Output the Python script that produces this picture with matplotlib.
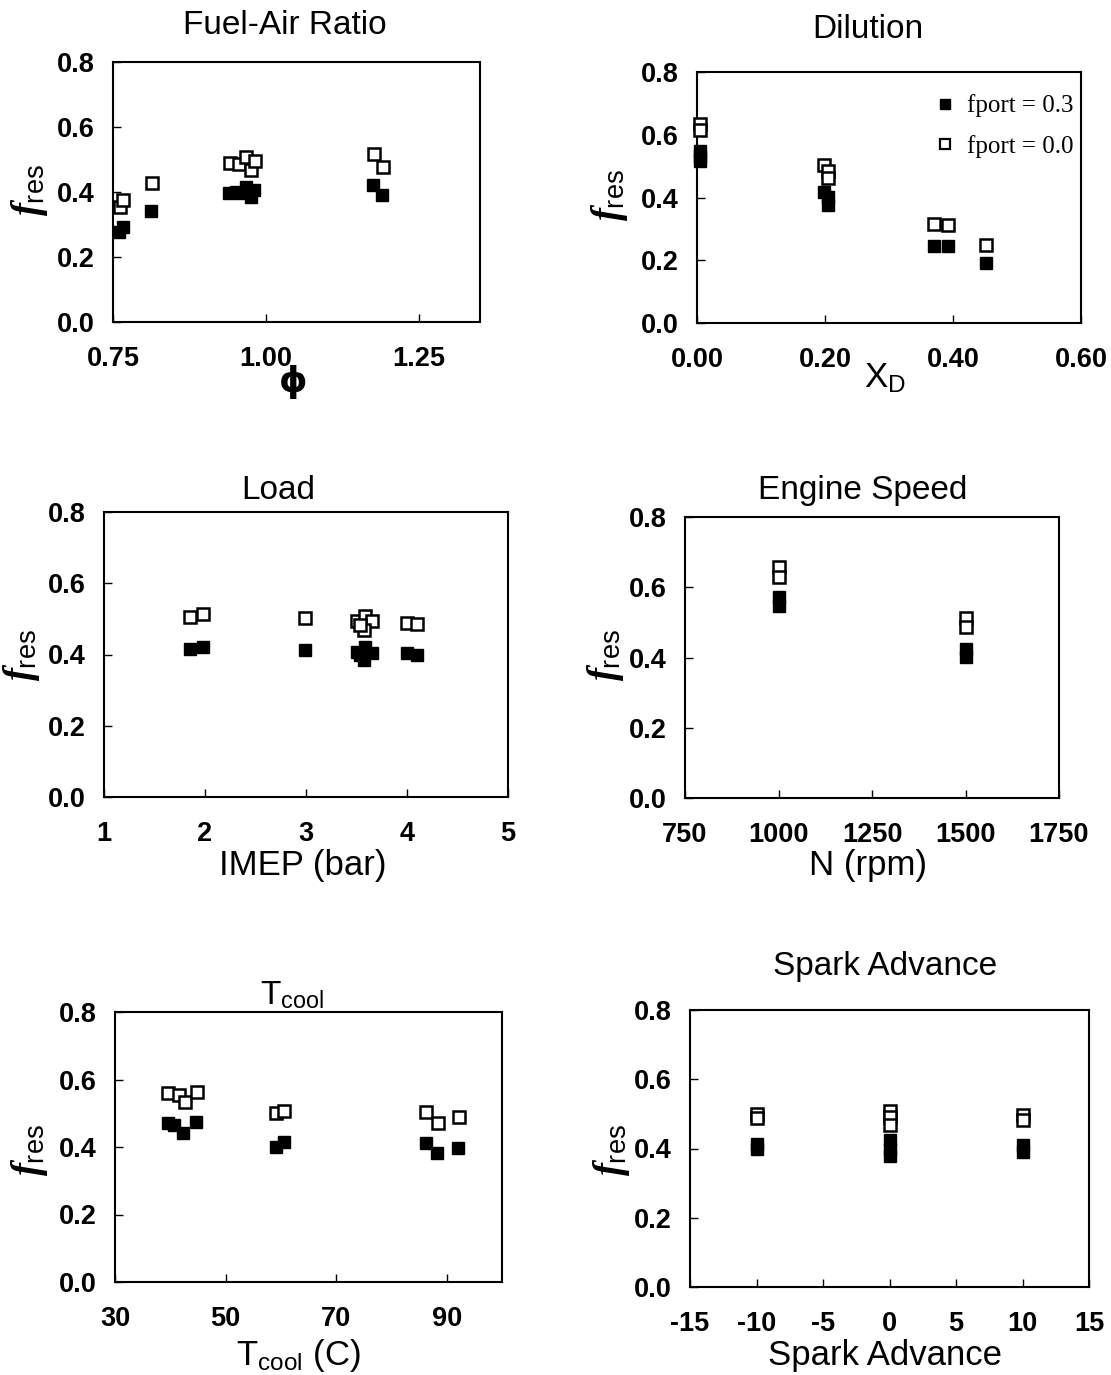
import matplotlib
matplotlib.use("Agg")
import matplotlib.pyplot as plt
from matplotlib.lines import Line2D

plt.rcParams['font.family'] = ['Liberation Sans', 'DejaVu Sans']
plt.rcParams['mathtext.fontset'] = 'custom'
plt.rcParams['mathtext.rm'] = 'Liberation Sans'
plt.rcParams['mathtext.it'] = 'Liberation Serif:italic:bold'

# Fuel-air ratio
phi_03 = [0.759, 0.767, 0.812, 0.940, 0.951, 0.959, 0.967, 0.975, 0.980, 1.175, 1.190]
fres_phi_03 = [0.278, 0.293, 0.342, 0.398, 0.401, 0.396, 0.416, 0.384, 0.406, 0.422, 0.391]
phi_00 = [0.762, 0.767, 0.813, 0.942, 0.956, 0.968, 0.976, 0.982, 1.177, 1.191]
fres_phi_00 = [0.355, 0.374, 0.429, 0.490, 0.486, 0.509, 0.468, 0.496, 0.517, 0.478]

# Dilution
xd_03 = [0.005, 0.005, 0.005, 0.199, 0.205, 0.205, 0.371, 0.392, 0.451]
fres_xd_03 = [0.549, 0.532, 0.517, 0.417, 0.401, 0.375, 0.245, 0.245, 0.190]
xd_00 = [0.005, 0.005, 0.199, 0.205, 0.205, 0.371, 0.392, 0.451]
fres_xd_00 = [0.634, 0.614, 0.502, 0.486, 0.463, 0.314, 0.311, 0.250]

# Load
imep_03 = [1.85, 1.98, 2.99, 3.50, 3.58, 3.65, 3.57, 3.53, 4.00, 4.10]
fres_imep_03 = [0.415, 0.420, 0.413, 0.408, 0.422, 0.403, 0.385, 0.399, 0.403, 0.399]
imep_00 = [1.85, 1.98, 2.99, 3.50, 3.58, 3.65, 3.57, 3.53, 4.00, 4.10]
fres_imep_00 = [0.506, 0.514, 0.503, 0.495, 0.508, 0.495, 0.469, 0.483, 0.489, 0.485]

# Engine speed
n_03 = [1000, 1000, 1500, 1500]
fres_n_03 = [0.572, 0.547, 0.424, 0.401]
n_00 = [1000, 1000, 1500, 1500]
fres_n_00 = [0.658, 0.629, 0.512, 0.487]

# Coolant temperature
tc_03 = [39.5, 40.7, 42.3, 44.7, 59.1, 60.6, 86.2, 88.3, 92.1]
fres_tc_03 = [0.470, 0.465, 0.441, 0.475, 0.401, 0.416, 0.411, 0.381, 0.396]
tc_00 = [39.5, 41.6, 42.6, 44.9, 59.1, 60.6, 86.2, 88.5, 92.3]
fres_tc_00 = [0.559, 0.554, 0.532, 0.564, 0.500, 0.508, 0.505, 0.470, 0.488]

# Spark advance
sa_03 = [-10, -10, 0, 0, 0, 10, 10]
fres_sa_03 = [0.412, 0.398, 0.424, 0.400, 0.379, 0.409, 0.390]
sa_00 = [-10, -10, 0, 0, 0, 10, 10]
fres_sa_00 = [0.499, 0.488, 0.509, 0.490, 0.469, 0.497, 0.481]

W, H = 1111, 1375
fig = plt.figure(figsize=(W / 100, H / 100), dpi=100)

def px_axes(left, right, top, bottom):
    return fig.add_axes([left / W, 1 - bottom / H, (right - left) / W, (bottom - top) / H])

def ftext(x, y, s, **kw):
    fig.text(x / W, 1 - y / H, s, ha='center', va='center', **kw)

# caja de ejes en pixeles, limites, ticks, textos y sus posiciones
paneles = [
    dict(box=(113, 480, 62, 322), xlim=(0.75, 1.35), xt=[0.75, 1.00, 1.25],
         xtl=['0.75', '1.00', '1.25'], data=(phi_03, fres_phi_03, phi_00, fres_phi_00),
         title='Fuel-Air Ratio', tpos=(285, 25), xlab='\u03d5', xpos=(293, 382), ypos=(30, 190)),
    dict(box=(697, 1081, 72, 323), xlim=(0.0, 0.6), xt=[0.0, 0.2, 0.4, 0.6],
         xtl=['0.00', '0.20', '0.40', '0.60'], data=(xd_03, fres_xd_03, xd_00, fres_xd_00),
         title='Dilution', tpos=(868, 30), xlab=r'X$_{\mathrm{D}}$', xpos=(885, 378), ypos=(610, 195)),
    dict(box=(104, 508, 512, 797), xlim=(1, 5), xt=[1, 2, 3, 4, 5],
         xtl=['1', '2', '3', '4', '5'], data=(imep_03, fres_imep_03, imep_00, fres_imep_00),
         title='Load', tpos=(278, 490), xlab='IMEP (bar)', xpos=(303, 865), ypos=(22, 655)),
    dict(box=(685, 1059, 517, 798), xlim=(750, 1750), xt=[750, 1000, 1250, 1500, 1750],
         xtl=['750', '1000', '1250', '1500', '1750'], data=(n_03, fres_n_03, n_00, fres_n_00),
         title='Engine Speed', tpos=(863, 490), xlab='N (rpm)', xpos=(868, 865), ypos=(605, 655)),
    dict(box=(115, 502, 1012, 1282), xlim=(30, 100), xt=[30, 50, 70, 90],
         xtl=['30', '50', '70', '90'], data=(tc_03, fres_tc_03, tc_00, fres_tc_00),
         title=r'T$_{\mathrm{cool}}$', tpos=(292, 995), xlab=r'T$_{\mathrm{cool}}$ (C)', xpos=(298, 1355), ypos=(30, 1150)),
    dict(box=(690, 1089, 1010, 1287), xlim=(-15, 15), xt=[-15, -10, -5, 0, 5, 10, 15],
         xtl=['-15', '-10', '-5', '0', '5', '10', '15'], data=(sa_03, fres_sa_03, sa_00, fres_sa_00),
         title='Spark Advance', tpos=(885, 967), xlab='Spark Advance', xpos=(885, 1355), ypos=(612, 1150)),
]

for i, p in enumerate(paneles):
    ax = px_axes(*p['box'])
    x3, y3, x0, y0 = p['data']
    ax.plot(x3, y3, ls='none', marker='s', ms=8.5, mfc='black', mec='black', clip_on=False, zorder=3)
    ax.plot(x0, y0, ls='none', marker='s', ms=8.5, mfc='white', mec='black', mew=1.8, clip_on=False, zorder=4)
    ax.set_xlim(*p['xlim'])
    ax.set_ylim(0, 0.8)
    ax.set_xticks(p['xt'])
    ax.set_xticklabels(p['xtl'])
    ax.set_yticks([0.0, 0.2, 0.4, 0.6, 0.8])
    ax.set_yticklabels(['0.0', '0.2', '0.4', '0.6', '0.8'])
    ax.tick_params(direction='in', length=6, width=1.0, labelsize=19.5)
    ax.tick_params(axis='x', pad=17)
    ax.tick_params(axis='y', pad=13)
    for lab in ax.get_xticklabels() + ax.get_yticklabels():
        lab.set_fontweight('bold')
    for sp in ax.spines.values():
        sp.set_linewidth(1.5)

    ftext(*p['tpos'], p['title'], fontsize=24)
    if i == 0:
        ftext(*p['xpos'], p['xlab'], fontsize=26, fontweight='bold', family=['DejaVu Sans'])
    else:
        ftext(*p['xpos'], p['xlab'], fontsize=25)
    ftext(*p['ypos'], r'$\mathit{f}_{\mathrm{res}}$', fontsize=28, rotation=90)

    if i == 1:
        handles = [
            Line2D([], [], ls='none', marker='s', ms=7.5, mfc='black', mec='black'),
            Line2D([], [], ls='none', marker='s', ms=7.5, mfc='white', mec='black', mew=1.6),
        ]
        ax.legend(handles, ['fport = 0.3', 'fport = 0.0'], loc='upper right',
                  bbox_to_anchor=(1.04, 1.0), frameon=False, handlelength=0.8,
                  handletextpad=0.5, labelspacing=0.7,
                  prop={'family': 'Liberation Serif', 'size': 18})

fig.savefig('out.png', dpi=100)
